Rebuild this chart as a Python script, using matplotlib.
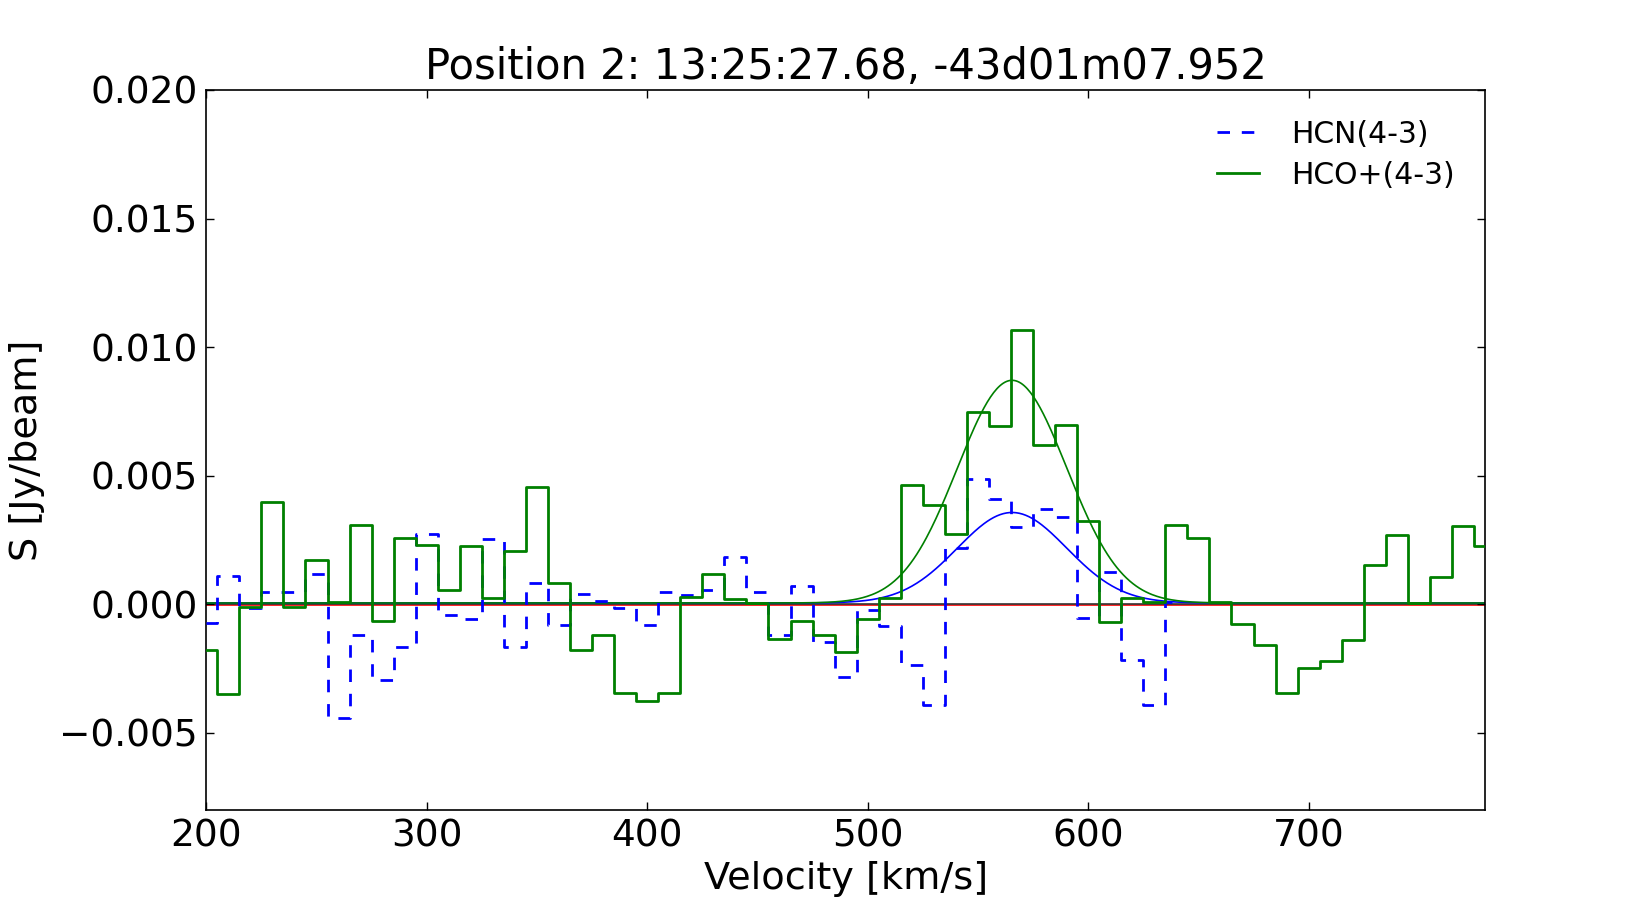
import numpy as np
import matplotlib
matplotlib.use("Agg")
import matplotlib.pyplot as plt

# ---------------------------------------------
# Spektren (Kanalmitten in km/s, Flussdichte in Jy/beam)
# ---------------------------------------------
vel_hco = np.arange(200, 790, 10)
flux_hco = [
    -0.00178, -0.00347, -0.00010, 0.00399, -0.00010, 0.00171, 0.00010, 0.00308,
    -0.00065, 0.00256, 0.00231, 0.00056, 0.00226, 0.00025, 0.00208, 0.00458,
    0.00081, -0.00178, -0.00121, -0.00344, -0.00377, -0.00344, 0.00029, 0.00119,
    0.00019, 0.00004, -0.00136, -0.00065, -0.00121, -0.00187, -0.00058, 0.00023,
    0.00462, 0.00387, 0.00274, 0.00748, 0.00692, 0.01065, 0.00621, 0.00696,
    0.00322, -0.00070, 0.00023, 0.00010, 0.00308, 0.00258, 0.00008, -0.00077,
    -0.00158, -0.00344, -0.00249, -0.00219, -0.00139, 0.00153, 0.00270, 0.00006,
    0.00105, 0.00303, 0.00225,
]

vel_hcn = np.arange(200, 650, 10)
flux_hcn = [
    -0.00074, 0.00110, -0.00013, 0.00049, 0.00049, 0.00117, -0.00442, -0.00121,
    -0.00296, -0.00166, 0.00273, -0.00040, -0.00056, 0.00253, -0.00166, 0.00084,
    -0.00080, 0.00039, 0.00013, -0.00013, -0.00080, 0.00049, 0.00035, 0.00055,
    0.00184, 0.00049, -0.00121, 0.00071, -0.00147, -0.00282, -0.00022, -0.00086,
    -0.00238, -0.00392, 0.00218, 0.00488, 0.00409, 0.00299, 0.00370, 0.00339,
    -0.00052, 0.00127, -0.00217, -0.00392, 0.00010,
]

# Gauss-Fits (Amplitude, Zentrum, Sigma)
fit_hco = (0.00866, 565.5, 24.8)
fit_hcn = (0.00352, 565.5, 24.8)
fit_offset = 0.00005
baseline_level = 0.0
red_level = -0.00004

title = "Position 2: 13:25:27.68, -43d01m07.952"

# ---------------------------------------------
# Plot
# ---------------------------------------------
plt.rcParams["lines.scale_dashes"] = False
fig = plt.figure(figsize=(16.5, 9), dpi=100)
ax = fig.add_axes([0.125, 0.1, 0.775, 0.8])

ax.plot([200, 780], [red_level, red_level], color="r", lw=1.2, zorder=1)
ax.plot([200, 780], [baseline_level, baseline_level], color="#333333", lw=1.2, zorder=1.5)

ax.step(vel_hcn, flux_hcn, where="mid", color="b", lw=2, dashes=(9, 8.5),
        label="HCN(4-3)", zorder=3)
ax.step(vel_hco, flux_hco, where="mid", color="g", lw=2,
        label="HCO+(4-3)", zorder=3)

v_fit = np.linspace(200, 780, 800)
for (amp, cen, sig), col in [(fit_hcn, "b"), (fit_hco, "g")]:
    ax.plot(v_fit, fit_offset + amp * np.exp(-0.5 * ((v_fit - cen) / sig) ** 2),
            color=col, lw=1.2, zorder=2)

ax.set_xlim(200, 780)
ax.set_ylim(-0.008, 0.020)
ax.set_yticks(np.arange(-0.005, 0.0201, 0.005))
ax.set_xticks([200, 300, 400, 500, 600, 700])
ax.tick_params(direction="in", top=True, right=True, length=6, width=1,
               labelsize=27, pad=6)
for s in ax.spines.values():
    s.set_linewidth(1.2)

ax.set_title(title, fontsize=30, pad=8)
ax.set_xlabel("Velocity [km/s]", fontsize=27.5, labelpad=5)
ax.set_ylabel("S [Jy/beam]", fontsize=27.5, labelpad=10)

ax.legend(loc="upper right", frameon=False, fontsize=21.5, handlelength=1.4,
          handletextpad=1.1, labelspacing=0.4, borderaxespad=0.6)

fig.savefig("out.png", dpi=100)
